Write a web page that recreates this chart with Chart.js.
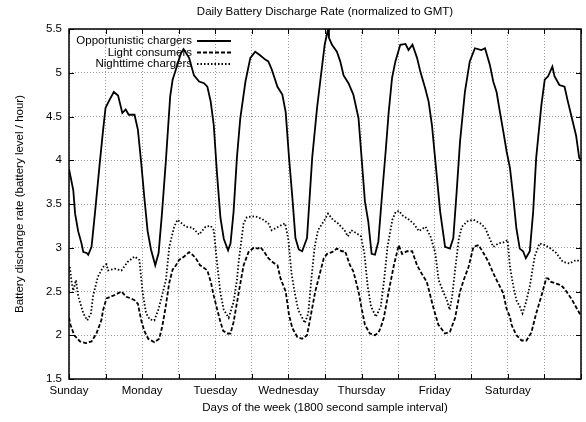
<!DOCTYPE html>
<html>
<head>
<meta charset="utf-8">
<script src="https://cdn.jsdelivr.net/npm/chart.js@4.4.0/dist/chart.umd.min.js"></script>
<style>
  html, body { margin: 0; padding: 0; background: #fff; }
  canvas { display: block; }
</style>
</head>
<body>
<canvas id="chart" width="586" height="422"></canvas>
<script>
// x values are hours since Sunday 00:00 GMT, y is battery level / hour
const days = ['Sunday', 'Monday', 'Tuesday', 'Wednesday', 'Thursday', 'Friday', 'Saturday'];

const oppHours = [0,1.4,2.0,3.0,4.1,4.7,5.8,6.3,7.4,8.5,10.1,11.2,12.0,13.3,14.7,16.1,17.5,18.6,19.6,21.5,22.6,23.7,24.7,25.8,26.9,28.3,29.4,30.5,31.8,33.2,34.0,35.1,36.7,37.6,39.4,41.0,42.7,44.3,45.4,46.5,47.5,48.6,49.7,50.8,52.2,53.0,54.0,55.1,56.2,57.9,59.5,61.1,62.7,64.4,65.4,66.5,68.4,70.0,71.1,72.2,73.3,74.3,75.4,76.5,78.1,79.8,81.4,82.5,83.9,85.0,85.3,86.3,87.9,89.0,90.1,91.7,93.3,95.0,96.0,97.1,98.2,99.3,100.4,101.5,102.8,103.9,104.9,106.0,107.1,108.7,110.4,111.4,112.7,114.2,115.3,116.9,118.0,119.1,120.1,121.8,123.4,125.0,126.1,127.2,128.3,129.9,131.5,133.2,135.3,136.5,138.1,139.2,140.3,141.4,142.5,143.6,144.7,145.8,146.8,147.9,149.0,149.9,151.2,152.3,153.3,155.0,156.1,157.2,158.6,159.3,160.9,162.6,163.7,165.3,166.4,167.4,168.0];
const oppRate = [3.9,3.66,3.39,3.19,3.05,2.95,2.94,2.92,3.01,3.39,3.97,4.35,4.6,4.69,4.78,4.74,4.54,4.58,4.52,4.52,4.35,3.97,3.58,3.19,2.98,2.8,2.94,3.39,4.0,4.73,4.92,5.04,5.22,5.27,5.17,4.97,4.9,4.88,4.84,4.67,4.4,3.83,3.34,3.1,2.97,3.05,3.41,4.03,4.48,4.9,5.17,5.24,5.2,5.15,5.13,5.04,4.84,4.75,4.55,4.03,3.57,3.11,2.98,2.96,3.11,4.03,4.6,4.92,5.32,5.5,5.4,5.32,5.24,5.13,4.97,4.88,4.75,4.48,4.03,3.53,3.3,2.93,2.92,3.07,3.64,4.1,4.55,4.94,5.13,5.32,5.33,5.26,5.32,5.17,5.01,4.82,4.67,4.4,4.03,3.41,3.01,2.99,3.11,3.64,4.21,4.78,5.13,5.28,5.26,5.28,5.09,4.9,4.78,4.55,4.33,4.1,3.91,3.57,3.22,2.99,2.96,2.88,2.96,3.41,4.03,4.63,4.92,4.96,5.07,4.96,4.86,4.84,4.67,4.44,4.28,4.03,4.0];

const lightHours = [0,0.5,1.7,3.6,5.5,7.4,9.0,10.6,11.2,12.3,15.0,17.2,18.8,20.4,21.5,22.6,23.7,24.7,26.0,28.0,29.6,30.6,31.6,32.9,34.0,35.1,36.1,37.8,39.4,40.5,41.6,43.0,44.3,45.4,46.6,47.5,48.6,49.7,50.6,51.9,53.0,54.0,55.0,56.0,57.3,58.9,60.6,62.0,62.8,64.1,65.4,67.0,68.4,69.4,71.1,72.2,73.3,74.9,76.5,78.1,79.2,80.8,81.9,83.6,84.7,86.3,87.9,89.5,90.6,92.2,93.3,95.0,96.0,97.1,98.7,100.4,101.5,102.2,103.3,104.9,106.6,108.2,109.3,110.9,112.6,114.2,115.8,117.4,118.5,119.6,121.2,123.4,125.0,126.7,128.3,129.5,131.1,132.7,134.4,136.0,137.6,139.2,140.9,142.5,143.6,144.7,145.2,146.8,148.5,150.1,151.7,153.3,155.0,156.6,157.2,158.2,159.9,161.5,162.6,164.2,165.3,166.4,167.7,168.0];
const lightRate = [2.2,2.12,2.0,1.93,1.91,1.93,2.02,2.17,2.29,2.42,2.46,2.5,2.44,2.42,2.4,2.36,2.17,2.05,1.96,1.92,1.96,2.1,2.3,2.6,2.75,2.8,2.86,2.9,2.95,2.92,2.88,2.8,2.77,2.74,2.6,2.45,2.3,2.15,2.05,2.02,2.02,2.15,2.35,2.55,2.8,2.95,3.0,2.99,3.01,2.95,2.88,2.83,2.8,2.65,2.5,2.23,2.08,1.98,1.96,2.0,2.2,2.5,2.65,2.88,2.93,2.95,2.99,2.96,2.96,2.8,2.73,2.5,2.31,2.12,2.02,2.0,2.03,2.08,2.2,2.5,2.8,3.03,2.93,2.96,2.96,2.8,2.7,2.61,2.46,2.31,2.12,2.02,2.04,2.2,2.5,2.63,2.78,3.01,3.03,2.94,2.84,2.71,2.59,2.48,2.3,2.21,2.12,2.0,1.94,1.94,2.03,2.25,2.45,2.65,2.65,2.61,2.59,2.57,2.53,2.45,2.39,2.32,2.24,2.22];

const nightHours = [0,0.3,0.9,1.4,2.3,3.0,4.7,6.0,7.2,7.9,9.5,11.2,12.3,12.8,15.0,17.2,19.3,21.5,23.1,24.2,25.3,26.5,28.0,29.4,31.8,32.9,34.5,35.6,38.3,40.5,42.7,44.8,46.5,47.5,48.6,49.7,50.8,52.4,54.0,55.1,55.7,57.3,58.4,61.1,63.3,65.4,66.5,68.7,70.9,72.0,73.0,74.1,75.2,77.4,78.5,79.5,80.6,81.7,83.9,85.0,86.6,88.2,90.4,91.5,92.6,94.2,95.8,96.9,98.0,99.1,100.7,102.3,103.4,104.5,106.1,107.2,108.3,109.4,111.6,113.2,114.8,117.0,118.6,120.2,121.3,123.0,124.0,124.9,125.7,126.8,127.9,128.9,130.6,132.7,134.9,136.5,138.1,139.2,140.9,142.5,143.9,144.7,145.8,146.8,147.9,148.8,149.9,151.2,152.8,154.4,156.1,157.7,159.9,162.0,164.2,166.4,168.0];
const nightRate = [2.77,2.77,2.6,2.51,2.63,2.45,2.25,2.17,2.25,2.45,2.67,2.78,2.81,2.74,2.76,2.74,2.84,2.9,2.86,2.48,2.25,2.18,2.17,2.3,2.63,3.01,3.24,3.32,3.24,3.23,3.15,3.24,3.25,3.2,2.82,2.48,2.29,2.2,2.38,2.63,2.85,3.28,3.35,3.36,3.33,3.28,3.2,3.24,3.28,3.09,2.71,2.48,2.29,2.14,2.25,2.63,3.01,3.2,3.32,3.39,3.32,3.28,3.2,3.13,3.2,3.17,3.13,2.94,2.56,2.33,2.21,2.33,2.63,3.01,3.32,3.41,3.42,3.37,3.32,3.27,3.19,3.24,3.13,2.94,2.63,2.48,2.4,2.29,2.44,2.78,3.1,3.24,3.3,3.32,3.28,3.23,3.1,3.01,3.05,3.06,3.09,2.78,2.56,2.4,2.33,2.25,2.37,2.56,2.9,3.05,3.03,3.0,2.94,2.84,2.82,2.86,2.84];

function pairs(xs, ys) {
  return xs.map((x, i) => ({ x: x, y: ys[i] }));
}

const FONT = '"Liberation Sans", Arial, Helvetica, sans-serif';

// gnuplot look: border box, inward mirrored ticks, titles, key at top left
const gnuplotBits = {
  id: 'gnuplotBits',
  afterDraw(chart) {
    const ctx = chart.ctx;
    const a = chart.chartArea;
    const xs = chart.scales.x, ys = chart.scales.y;
    ctx.save();
    ctx.strokeStyle = '#000';
    ctx.lineWidth = 1;
    ctx.setLineDash([]);
    ctx.beginPath();
    xs.ticks.forEach(t => {
      const px = Math.round(xs.getPixelForValue(t.value)) + 0.5;
      ctx.moveTo(px, a.bottom); ctx.lineTo(px, a.bottom - 5);
      ctx.moveTo(px, a.top); ctx.lineTo(px, a.top + 5);
    });
    ys.ticks.forEach(t => {
      const py = Math.round(ys.getPixelForValue(t.value)) + 0.5;
      ctx.moveTo(a.left, py); ctx.lineTo(a.left + 5, py);
      ctx.moveTo(a.right, py); ctx.lineTo(a.right - 5, py);
    });
    ctx.stroke();
    ctx.lineWidth = 1.5;
    ctx.strokeRect(a.left, a.top, a.right - a.left, a.bottom - a.top);

    ctx.fillStyle = '#000';
    ctx.font = '11.5px ' + FONT;
    ctx.textAlign = 'center';
    ctx.textBaseline = 'middle';
    const cx = (a.left + a.right) / 2;
    ctx.fillText('Daily Battery Discharge Rate (normalized to GMT)', cx, 12);
    ctx.fillText('Days of the week (1800 second sample interval)', cx, 408);
    ctx.save();
    ctx.translate(20, (a.top + a.bottom) / 2);
    ctx.rotate(-Math.PI / 2);
    ctx.fillText('Battery discharge rate (battery level / hour)', 0, 0);
    ctx.restore();

    // key
    ctx.font = '11.5px ' + FONT;
    ctx.textAlign = 'right';
    chart.data.datasets.forEach((ds, i) => {
      const y = 41 + i * 11.5;
      ctx.fillText(ds.label, 192, y);
      ctx.beginPath();
      ctx.lineWidth = ds.borderWidth;
      ctx.setLineDash(ds.borderDash || []);
      ctx.moveTo(197, y);
      ctx.lineTo(231, y);
      ctx.stroke();
    });
    ctx.restore();
  }
};

new Chart(document.getElementById('chart'), {
  type: 'line',
  data: {
    datasets: [
      { label: 'Opportunistic chargers', data: pairs(oppHours, oppRate), borderColor: '#000', borderWidth: 1.8, borderDash: [] },
      { label: 'Light consumers', data: pairs(lightHours, lightRate), borderColor: '#000', borderWidth: 1.8, borderDash: [4, 2] },
      { label: 'Nighttime chargers', data: pairs(nightHours, nightRate), borderColor: '#000', borderWidth: 1.8, borderDash: [1.5, 2] }
    ]
  },
  options: {
    responsive: false,
    animation: false,
    devicePixelRatio: 1,
    layout: { padding: { top: 29, right: 1, left: 0, bottom: 0 } },
    elements: { point: { radius: 0 }, line: { tension: 0, fill: false } },
    plugins: { legend: { display: false }, tooltip: { enabled: false }, title: { display: false } },
    scales: {
      x: {
        type: 'linear',
        min: 0,
        max: 168,
        afterFit: s => { s.height = 43; },
        ticks: {
          stepSize: 12,
          autoSkip: false,
          maxRotation: 0,
          padding: 5,
          color: '#000',
          font: { family: FONT, size: 11.5 },
          callback: v => (v % 24 === 0 && v < 168) ? days[v / 24] : ''
        },
        grid: { color: '#9a9a9a', lineWidth: 1, drawTicks: false },
        border: { display: false, dash: [1, 2] }
      },
      y: {
        min: 1.5,
        max: 5.5,
        afterFit: s => { s.width = 69; },
        ticks: {
          stepSize: 0.5,
          padding: 7,
          color: '#000',
          font: { family: FONT, size: 11.5 },
          callback: v => String(v)
        },
        grid: { color: '#9a9a9a', lineWidth: 1, drawTicks: false },
        border: { display: false, dash: [1, 2] }
      }
    }
  },
  plugins: [gnuplotBits]
});
</script>
</body>
</html>
